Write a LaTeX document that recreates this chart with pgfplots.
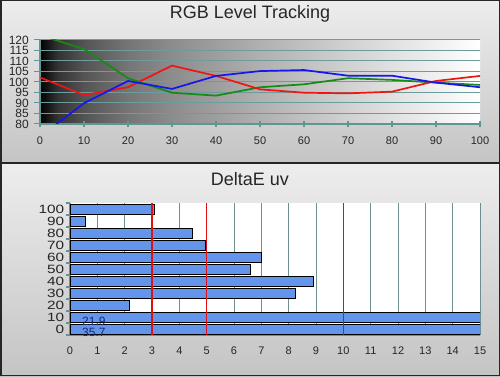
\documentclass[border=0pt]{standalone}
\usepackage{pgfplots}
\pgfplotsset{compat=1.18}
\usepackage{fontspec}
\setmainfont{Liberation Sans}
\definecolor{gridc}{HTML}{6E9C9C}
\definecolor{vgrid}{HTML}{6F8F8F}
\definecolor{axc}{HTML}{5F9595}
\definecolor{barblue}{HTML}{6495EC}
\definecolor{lblue}{HTML}{1A2A6A}
\definecolor{rline}{HTML}{EE1515}
\definecolor{gline}{HTML}{158A15}
\definecolor{bline}{HTML}{1515EE}
\definecolor{vred}{HTML}{E01010}
\pgfdeclarehorizontalshading{rgbbg}{100bp}{color(0bp)=(black); color(25bp)=(black); color(27bp)=(black!80); color(30bp)=(black!67); color(35bp)=(black!54); color(40bp)=(black!45); color(50bp)=(black!31); color(60bp)=(black!18); color(70bp)=(black!6); color(75bp)=(white); color(100bp)=(white)}
\begin{document}
\begin{tikzpicture}[x=1bp,y=1bp]
\useasboundingbox (0,0) rectangle (500,376);
\shade[top color=gray!14, bottom color=gray!46] (0,213) rectangle (500,376);
\shade[top color=gray!14, bottom color=gray!46] (0,0) rectangle (500,213);
\draw[black!85, line width=1.3bp] (0,213) -- (500,213);
\draw[black!85, line width=1.5bp] (0.75,0.75) rectangle (499.25,375.25);
\node[font=\fontsize{18bp}{20bp}\selectfont, text=black!85] at (250,362) {RGB Level Tracking};
\node[font=\fontsize{18bp}{20bp}\selectfont, text=black!85] at (250,197) {DeltaE uv};

\begin{axis}[at={(40bp,252bp)}, anchor=south west, scale only axis,
  width=440bp, height=84bp,
  xmin=0, xmax=100, ymin=80, ymax=120,
  xtick={0,10,...,100}, ytick={80,85,...,120},
  axis x line*=bottom, axis y line*=left,
  axis line style={axc, line width=1.3bp},
  ymajorgrids, grid style={gridc, line width=1bp},
  axis background/.style={shading=rgbbg},
  /pgf/number format/assume math mode=true,
  x tick style={axc, line width=1.3bp}, y tick style={axc, line width=1bp},
  xtick align=center, ytick align=outside,
  major tick length=6bp,
  xticklabel style={font=\fontsize{11bp}{12bp}\selectfont, text=black!85, yshift=-6bp},
  yticklabel style={font=\fontsize{12bp}{12bp}\selectfont, text=black!85, xshift=-5bp, inner sep=0pt},
  every axis plot/.append style={line width=1.7bp},
  axis on top=false,
]
\addplot[gline] coordinates {(0,122.3) (10,115.7) (20,101.8) (30,94.9) (40,93.5) (50,97.5) (60,98.9) (70,101.8) (80,101.0) (90,99.7) (100,98.6)};
\addplot[rline] coordinates {(0,102.2) (10,93.8) (20,97.5) (30,107.8) (40,102.9) (50,96.5) (60,94.9) (70,94.6) (80,95.4) (90,100.5) (100,102.9)};
\addplot[bline] coordinates {(0,74.0) (10,89.9) (20,100.5) (30,96.7) (40,102.9) (50,105.2) (60,105.7) (70,103.0) (80,103.0) (90,99.7) (100,97.5)};
\end{axis}

\begin{axis}[at={(70bp,41bp)}, anchor=south west, scale only axis,
  width=410bp, height=132bp,
  xbar, bar width=10bp,
  xmin=0, xmax=15, ymin=-0.5, ymax=10.5,
  xtick={0,...,15}, ytick={0,...,10},
  yticklabels={0,10,20,30,40,50,60,70,80,90,100},
  minor ytick={-0.5,0.5,...,10.5},
  axis x line*=bottom, axis y line*=left,
  axis line style={axc, line width=1.3bp},
  xmajorgrids, grid style={vgrid, line width=0.9bp},
  axis background/.style={fill=white},
  /pgf/number format/assume math mode=true,
  major x tick style={axc, line width=1bp}, major y tick style={draw=none},
  minor tick style={axc, line width=1.3bp},
  tick align=outside, xtick align=inside,
  major tick length=3bp, minor tick length=4bp,
  xticklabel style={font=\fontsize{11bp}{12bp}\selectfont, text=black!85, yshift=-8bp},
  yticklabel style={font=\fontsize{12bp}{12bp}\selectfont, text=black!85, xscale=1.28, inner sep=0pt, xshift=-2bp},
  axis on top=false,
]
\addplot[fill=barblue, draw=black, line width=0.9bp] coordinates {(35.7,0) (21.9,1) (2.18,2) (8.24,3) (8.92,4) (6.61,5) (7.01,6) (4.96,7) (4.49,8) (0.57,9) (3.08,10)};
\coordinate (ra3) at (axis cs:3,-0.5);
\coordinate (rb3) at (axis cs:3,10.5);
\coordinate (ra5) at (axis cs:5,-0.5);
\coordinate (rb5) at (axis cs:5,10.5);
\coordinate (ra10) at (axis cs:10,-0.5);
\coordinate (rb10) at (axis cs:10,10.5);
\coordinate (l21) at (axis cs:0.44,0.6);
\coordinate (l35) at (axis cs:0.44,-0.3);
\end{axis}
\draw[vred, line width=1.4bp] (ra3) -- (rb3);
\draw[vred, line width=1.4bp] (ra5) -- (rb5);
\draw[vred, line width=1.4bp] (ra10) -- (rb10);
\node[anchor=west, text=lblue, font=\fontsize{12bp}{13bp}\selectfont, inner sep=0pt] at (l21) {21.9};
\node[anchor=west, text=lblue, font=\fontsize{12bp}{13bp}\selectfont, inner sep=0pt] at (l35) {35.7};
\end{tikzpicture}
\end{document}
